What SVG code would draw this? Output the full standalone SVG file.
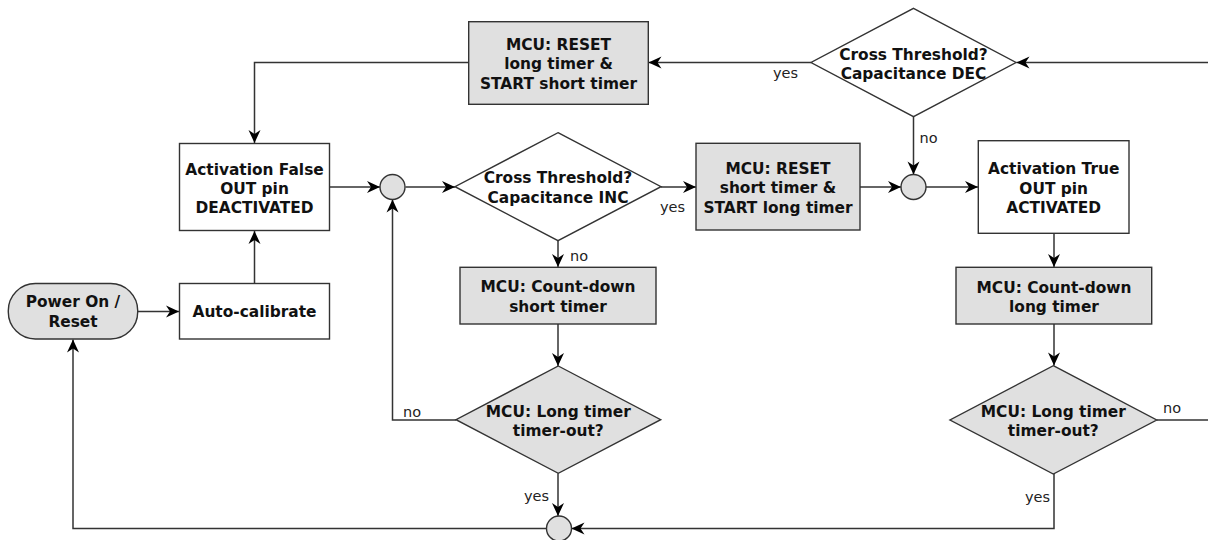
<svg xmlns="http://www.w3.org/2000/svg" width="1208" height="540" viewBox="0 0 1208 540">
<defs>
<marker id="arr" viewBox="-15 -8 16 16" refX="0" refY="0" markerWidth="16" markerHeight="16" markerUnits="userSpaceOnUse" orient="auto">
<path d="M0,0 L-13,-6 L-9,0 L-13,6 Z" fill="#000"/>
</marker>
</defs>
<style>
.box{fill:#fff;stroke:#333;stroke-width:1.4}
.gray{fill:#e0e0e0;stroke:#333;stroke-width:1.4}
.t{font-family:"DejaVu Sans",Verdana,sans-serif;font-weight:bold;font-size:15.4px;fill:#111;text-anchor:middle}
.lbl{font-family:"DejaVu Sans",Verdana,sans-serif;font-size:14.5px;fill:#222}
.c{fill:none;stroke:#333;stroke-width:1.5}
.a{marker-end:url(#arr)}
</style>
<rect width="1208" height="540" fill="#fff"/>

<g id="connectors">
<path class="c a" d="M137.7,311.5 H179"/>
<path class="c a" d="M254.5,283.5 V231"/>
<path class="c a" d="M329.5,187 H380"/>
<path class="c a" d="M405.5,187 H455"/>
<path class="c a" d="M661,187 H696"/>
<path class="c a" d="M860,187 H901"/>
<path class="c a" d="M926,187 H978"/>
<path class="c a" d="M913.5,116.7 V174.5"/>
<path class="c a" d="M1208,62.5 H1016.5"/>
<path class="c a" d="M811,62.5 H648.5"/>
<path class="c a" d="M468.7,62.5 H254.5 V143"/>
<path class="c a" d="M558,240.7 V267"/>
<path class="c a" d="M558,324 V366"/>
<path class="c a" d="M456,420 H392.5 V199.5"/>
<path class="c a" d="M558,473.3 V516"/>
<path class="c a" d="M546,528.5 H73 V339.5"/>
<path class="c a" d="M1054,233.3 V267"/>
<path class="c a" d="M1054,324 V365.5"/>
<path class="c" d="M1156.7,420 H1208"/>
<path class="c a" d="M1054,474 V528.5 H571.5"/>
<text class="lbl" x="773" y="78">yes</text>
<text class="lbl" x="919.5" y="142.7">no</text>
<text class="lbl" x="660" y="211.7">yes</text>
<text class="lbl" x="570" y="261">no</text>
<text class="lbl" x="403" y="416.7">no</text>
<text class="lbl" x="549" y="500.7" text-anchor="end">yes</text>
<text class="lbl" x="1163" y="413">no</text>
<text class="lbl" x="1050" y="501.7" text-anchor="end">yes</text>
</g>

<g id="power-on">
<rect class="gray" x="8.3" y="283.5" width="129.4" height="55.5" rx="27" ry="27"/>
<text class="t" x="73" y="307.3">Power On /</text>
<text class="t" x="73" y="326.7">Reset</text>
</g>

<g id="auto-calibrate">
<rect class="box" x="179.5" y="283.5" width="150" height="55.5"/>
<text class="t" x="254.5" y="316.7">Auto-calibrate</text>
</g>

<g id="activation-false">
<rect class="box" x="179.5" y="143.5" width="150" height="87"/>
<text class="t" x="254.5" y="174.5">Activation False</text>
<text class="t" x="254.5" y="194">OUT pin</text>
<text class="t" x="254.5" y="213.3">DEACTIVATED</text>
</g>

<g id="reset-long">
<rect class="gray" x="468.7" y="21.7" width="179.6" height="82.6"/>
<text class="t" x="558.5" y="50">MCU: RESET</text>
<text class="t" x="558.5" y="69.3">long timer &amp;</text>
<text class="t" x="558.5" y="89">START short timer</text>
</g>

<g id="dec">
<polygon class="box" points="913.5,8.3 1016,62.5 913.5,116.7 811,62.5"/>
<text class="t" x="913.5" y="59.5">Cross Threshold?</text>
<text class="t" x="913.5" y="79">Capacitance DEC</text>
</g>

<g id="junction1">
<circle class="gray" cx="392.5" cy="187" r="12.5"/>
</g>

<g id="inc">
<polygon class="box" points="558,132.7 661,186.7 558,240.7 455,186.7"/>
<text class="t" x="558" y="183.3">Cross Threshold?</text>
<text class="t" x="558" y="203">Capacitance INC</text>
</g>

<g id="reset-short">
<rect class="gray" x="696" y="143.3" width="164" height="86.7"/>
<text class="t" x="778" y="173.5">MCU: RESET</text>
<text class="t" x="778" y="193">short timer &amp;</text>
<text class="t" x="778" y="212.5">START long timer</text>
</g>

<g id="junction2">
<circle class="gray" cx="913.5" cy="187" r="12.5"/>
</g>

<g id="activation-true">
<rect class="box" x="978.3" y="140.7" width="150.7" height="92.6"/>
<text class="t" x="1053.7" y="174.3">Activation True</text>
<text class="t" x="1053.7" y="193.7">OUT pin</text>
<text class="t" x="1053.7" y="213">ACTIVATED</text>
</g>

<g id="countdown-short">
<rect class="gray" x="460" y="267.3" width="196" height="56.7"/>
<text class="t" x="558" y="292.3">MCU: Count-down</text>
<text class="t" x="558" y="311.7">short timer</text>
</g>

<g id="countdown-long">
<rect class="gray" x="956" y="267.3" width="195.7" height="56.7"/>
<text class="t" x="1054" y="292.7">MCU: Count-down</text>
<text class="t" x="1054" y="311.7">long timer</text>
</g>

<g id="timeout-left">
<polygon class="gray" points="558.3,366 660.7,419.7 558.3,473.3 456,419.7"/>
<text class="t" x="558.3" y="416.7">MCU: Long timer</text>
<text class="t" x="558.3" y="436">timer-out?</text>
</g>

<g id="timeout-right">
<polygon class="gray" points="1053.3,365.7 1156.7,420 1053.3,474 950,420"/>
<text class="t" x="1053.3" y="416.7">MCU: Long timer</text>
<text class="t" x="1053.3" y="436">timer-out?</text>
</g>

<g id="junction3">
<circle class="gray" cx="559" cy="528.5" r="12.5"/>
</g>
</svg>
